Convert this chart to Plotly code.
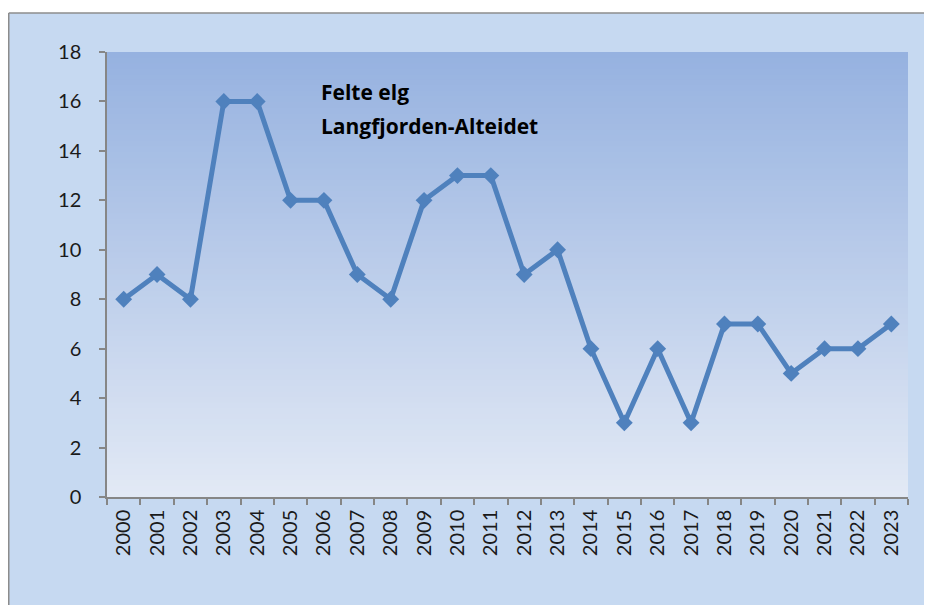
import plotly.graph_objects as go

years = [str(y) for y in range(2000, 2024)]
felte = [8, 9, 8, 16, 16, 12, 12, 9, 8, 12, 13, 13, 9, 10, 6, 3, 6, 3, 7, 7, 5, 6, 6, 7]
title_lines = ["Felte elg", "Langfjorden-Alteidet"]
y_ticks = list(range(0, 19, 2))

# page body has an 8px margin, so the figure starts at (8, 8) in the window
W, H = 924, 597
L, R, T, B = 99, 24, 44, 108
pw, ph = W - L - R, H - T - B

def px_x(p):
    return (p - L) / pw

def px_y(p):
    return (H - B - p) / ph

fig = go.Figure()

shapes = []
# outer chart area (fill), then top and left border lines
shapes.append(dict(type="rect", xref="paper", yref="paper", layer="below",
                   x0=px_x(0), x1=px_x(W + 40), y0=px_y(H + 40), y1=px_y(5),
                   fillcolor="#c6d9f1", line=dict(width=0)))
shapes.append(dict(type="line", xref="paper", yref="paper", layer="below",
                   x0=px_x(0.75), x1=px_x(W + 40), y0=px_y(5), y1=px_y(5),
                   line=dict(color="#8c8c8c", width=1.5)))
shapes.append(dict(type="line", xref="paper", yref="paper", layer="below",
                   x0=px_x(0.75), x1=px_x(0.75), y0=px_y(5), y1=px_y(H + 40),
                   line=dict(color="#8c8c8c", width=1.5)))
# gradient plot area (stacked stripes)
top = (150, 178, 224)
bot = (226, 233, 245)
N = 80
for i in range(N):
    f = i / (N - 1)
    c = tuple(round(bot[k] + (top[k] - bot[k]) * f) for k in range(3))
    shapes.append(dict(type="rect", xref="x domain", yref="y domain", layer="below",
                       x0=0, x1=1, y0=i / N, y1=1,
                       fillcolor="rgb(%d,%d,%d)" % c, line=dict(width=0)))

fig.add_trace(go.Scatter(
    x=years, y=felte, mode="lines+markers",
    line=dict(color="#4f81bd", width=5),
    marker=dict(symbol="diamond", size=13, color="#4f81bd"),
    showlegend=False, hoverinfo="x+y"))

annotations = []
for i, t in enumerate(title_lines):
    annotations.append(dict(text="<b>%s</b>" % t, xref="paper", yref="paper",
                            x=px_x(311), y=px_y(84 + 34 * i), xanchor="left", yanchor="middle",
                            showarrow=False, font=dict(family="Open Sans", size=21, color="#000000")))

fig.update_layout(
    width=W, height=H,
    margin=dict(l=L, r=R, t=T, b=B),
    paper_bgcolor="#ffffff", plot_bgcolor="rgba(0,0,0,0)",
    shapes=shapes, annotations=annotations,
    font=dict(family="Lato", size=20, color="#1a1a1a"),
    xaxis=dict(type="category", range=[-0.5, 23.5], tickson="boundaries",
               ticks="outside", ticklen=6, tickcolor="#868686", tickwidth=1.5,
               showline=True, linecolor="#868686", linewidth=1.5,
               showgrid=False, tickangle=-90, zeroline=False, ticklabelstandoff=3,
               tickfont=dict(family="Lato", size=20, color="#1a1a1a")),
    yaxis=dict(range=[0, 18], tickvals=y_ticks, ticks="outside", ticklen=6,
               tickcolor="#868686", tickwidth=1.5, showline=True, linecolor="#868686", linewidth=1.5,
               showgrid=False, zeroline=False, ticklabelstandoff=14,
               tickfont=dict(family="Lato", size=20, color="#1a1a1a")),
)

fig.write_html(
    "out.html",
    post_script="document.documentElement.style.overflow='hidden';document.body.style.overflow='hidden';",
)
